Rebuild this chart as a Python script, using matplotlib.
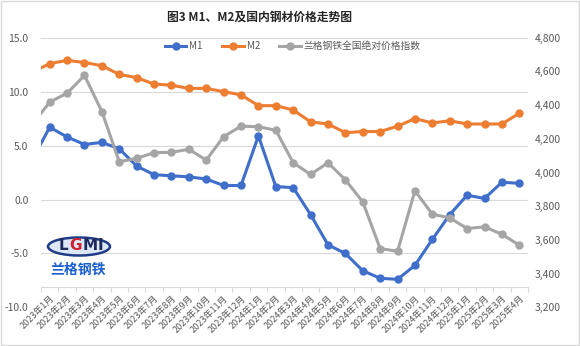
import numpy as np
import matplotlib.pyplot as plt
from matplotlib.patches import Ellipse, Rectangle

plt.rcParams['font.family'] = ['Noto Sans CJK SC', 'DejaVu Sans']

# 月份（2023年1月 - 2025年4月），数据前面多一个 2022年12月 的点（被裁掉，只露出线头）
months = [f"{y}年{m}月" for y in (2023, 2024, 2025) for m in range(1, 13)][:28]

m1 = [3.7, 6.7, 5.8, 5.1, 5.3, 4.7, 3.1, 2.3, 2.2, 2.1, 1.9, 1.3, 1.3,
      5.9, 1.2, 1.1, -1.4, -4.2, -5.0, -6.6, -7.3, -7.4, -6.1, -3.7, -1.4,
      0.4, 0.1, 1.6, 1.5]
m2 = [11.8, 12.6, 12.9, 12.7, 12.4, 11.6, 11.3, 10.7, 10.6, 10.3, 10.3, 10.0, 9.7,
      8.7, 8.7, 8.3, 7.2, 7.0, 6.2, 6.3, 6.3, 6.8, 7.5, 7.1, 7.3,
      7.0, 7.0, 7.0, 8.0]
lgmi = [4286, 4418, 4471, 4576, 4362, 4064, 4084, 4118, 4120, 4138, 4074, 4213, 4275,
        4272, 4251, 4058, 3989, 4058, 3957, 3826, 3549, 3533, 3892, 3753, 3731,
        3668, 3678, 3634, 3569]

left_ticks = [15, 10, 5, 0, -5, -10]
right_ticks = list(range(3200, 4801, 200))

c_m1, c_m2, c_gray = '#3F6FCB', '#ED7D31', '#A5A5A5'
grid_c = '#D9D9D9'
txt_c = '#595959'

fig = plt.figure(figsize=(5.8, 3.46), dpi=100)
ax = fig.add_axes([41 / 580, 1 - 307.4 / 346, (528 - 41) / 580, (307.4 - 37.7) / 346])
ax2 = ax.twinx()

# 边框：只保留横轴线（位于 -8.1 处，Excel 的样子）
for a in (ax, ax2):
    for s in ('top', 'left', 'right', 'bottom'):
        a.spines[s].set_visible(False)
ax.spines['bottom'].set_visible(True)
ax.spines['bottom'].set_position(('data', -8.1))
ax.spines['bottom'].set_color(grid_c)

x = np.arange(-1, len(months))
ax.plot(x, m1, color=c_m1, lw=2.2, marker='o', ms=5, label='M1', zorder=3)
ax.plot(x, m2, color=c_m2, lw=2.2, marker='o', ms=5, label='M2', zorder=3)
ax2.plot(x, lgmi, color=c_gray, lw=2.2, marker='o', ms=5, label='兰格钢铁全国绝对价格指数')

ax.set_xlim(-0.5, len(months) - 0.5)
ax.set_ylim(-10, 15)
ax2.set_ylim(3200, 4800)

# 网格线
for v in left_ticks:
    ax.axhline(v, color=grid_c, lw=0.8, zorder=0)

ax.set_yticks(left_ticks)
ax.set_yticklabels([f"{v:.1f}" for v in left_ticks])
ax.tick_params(axis='y', length=0, pad=9, labelsize=7.5, labelcolor=txt_c)
ax2.set_yticks(right_ticks)
ax2.set_yticklabels([f"{v:,}" for v in right_ticks])
ax2.tick_params(axis='y', length=0, pad=5, labelsize=7.5, labelcolor=txt_c)

# 横轴：标签在类别中心，刻度线在类别之间
ax.tick_params(axis='x', which='major', length=0, pad=5)
ax.set_xticks(np.arange(len(months) + 1) - 0.5, minor=True)
ax.tick_params(axis='x', which='minor', length=3.5, color=grid_c, width=0.8)
ax.set_xticks(np.arange(len(months)))
ax.set_xticklabels(months, rotation=45, ha='right', va='top',
                   rotation_mode='anchor', fontsize=6.5, color=txt_c)

fig.text(0.448, 0.951, '图3 M1、M2及国内钢材价格走势图', ha='center', va='center',
         fontsize=8.5, fontweight='bold', color='#262626')

h1, l1 = ax.get_legend_handles_labels()
h2, l2 = ax2.get_legend_handles_labels()
fig.legend(h1 + h2, l1 + l2, loc='center', bbox_to_anchor=(0.505, 1 - 46 / 346),
           ncol=3, frameon=False, fontsize=7, labelcolor=txt_c,
           handlelength=2.2, columnspacing=2.0, handletextpad=0.3)

# 兰格钢铁 logo
ell = Ellipse((79 / 580, 1 - 246.5 / 346), 62 / 580, 18 / 346, transform=fig.transFigure,
              facecolor='#DCE8F8', edgecolor='#1F3C88', lw=1.8)
fig.add_artist(ell)
for ch, cx, col in [('L', 63, '#1F2A5C'), ('G', 76, '#D0202E'),
                    ('M', 90, '#1F2A5C'), ('I', 100, '#1F2A5C')]:
    fig.text(cx / 580, 1 - 246 / 346, ch, color=col, fontsize=11, fontweight='bold',
             ha='center', va='center', family='DejaVu Sans')
fig.text(78 / 580, 1 - 270 / 346, '兰格钢铁', color='#1A5FD0', fontsize=10,
         fontweight='bold', ha='center', va='center')

fig.add_artist(Rectangle((0.002, 0.003), 0.996, 0.994, transform=fig.transFigure,
                         fill=False, edgecolor=grid_c, lw=1))

fig.savefig('out.png', dpi=100)
